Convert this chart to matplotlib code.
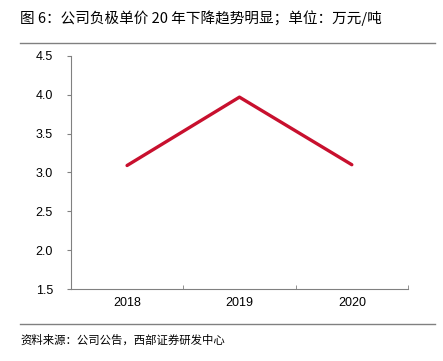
import matplotlib
matplotlib.use("Agg")
import matplotlib.pyplot as plt
from matplotlib.lines import Line2D

plt.rcParams['font.family'] = ['Liberation Sans', 'Noto Sans CJK SC', 'DejaVu Sans']

years = ["2018", "2019", "2020"]
price = [3.09, 3.97, 3.10]

title = "图 6：公司负极单价 20 年下降趋势明显；单位：万元/吨"
source = "资料来源：公司公告，西部证券研发中心"

fig = plt.figure(figsize=(4.43, 3.61), dpi=100)
ax = fig.add_axes([0.160, 0.1994, 0.761, 0.6456])

x = list(range(len(years)))
ax.plot(x, price, color='#C8102E', linewidth=2.4, solid_capstyle='round')

ax.set_xlim(-0.5, len(years) - 0.5)
ax.set_ylim(1.5, 4.5)
ax.set_yticks([1.5, 2.0, 2.5, 3.0, 3.5, 4.0, 4.5])
ax.set_yticklabels([f"{v:.1f}" for v in [1.5, 2.0, 2.5, 3.0, 3.5, 4.0, 4.5]], fontsize=9)
ax.set_xticks(x)
ax.set_xticklabels(years, fontsize=9)
ax.set_xticks([i - 0.5 for i in range(len(years) + 1)], minor=True)
ax.tick_params(axis='x', which='major', length=0, pad=6)
ax.tick_params(axis='x', which='minor', direction='in', length=3, color='#808080')
ax.tick_params(axis='y', direction='out', length=3, color='#808080', pad=10)
for s in ['top', 'right']:
    ax.spines[s].set_visible(False)
for s in ['left', 'bottom']:
    ax.spines[s].set_color('#808080')
    ax.spines[s].set_linewidth(0.8)

fig.text(20 / 443, 1 - 18 / 361, title, fontsize=10.5, va='center', ha='left',
         family=['Noto Sans CJK SC', 'DejaVu Sans'])
fig.add_artist(Line2D([20 / 443, 435 / 443], [1 - 43 / 361, 1 - 43 / 361],
                      color='#808080', linewidth=1.0))
fig.add_artist(Line2D([20 / 443, 435 / 443], [1 - 324 / 361, 1 - 324 / 361],
                      color='#808080', linewidth=1.0))
fig.text(20 / 443, 1 - 340 / 361, source, fontsize=8.2, va='center', ha='left',
         family=['Noto Sans CJK SC', 'DejaVu Sans'])

fig.savefig("out.png", dpi=100)
